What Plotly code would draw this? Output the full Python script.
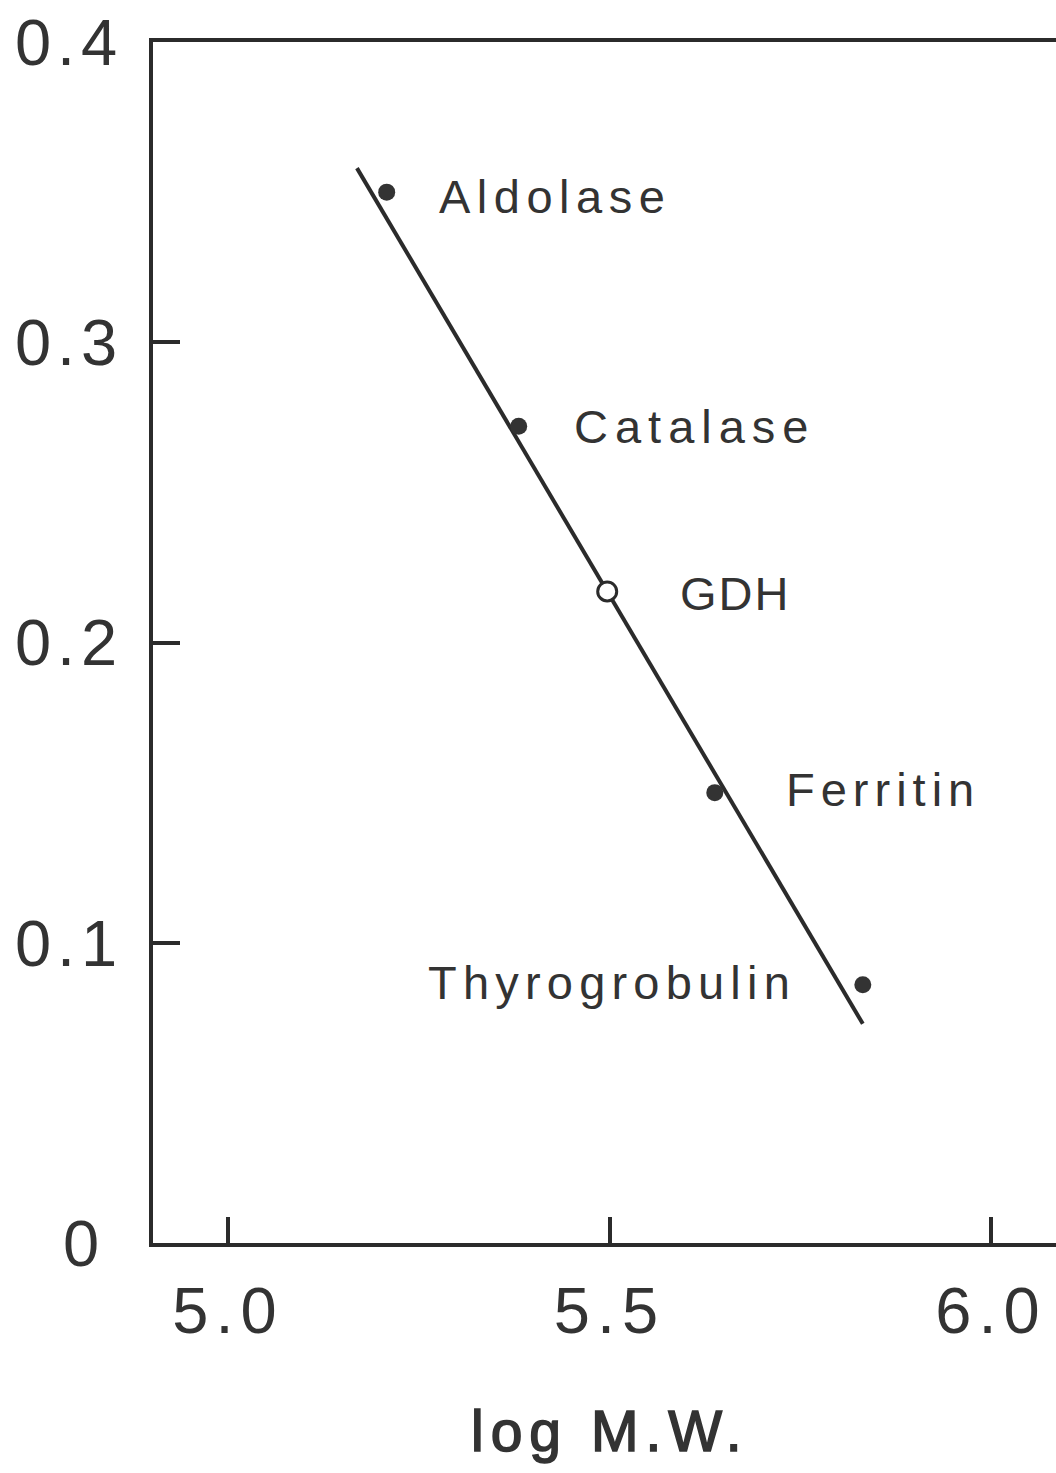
import plotly.graph_objects as go

# Calibration proteins: log molecular weight vs. mobility
proteins = ["Aldolase", "Catalase", "GDH", "Ferritin", "Thyrogrobulin"]
log_mw = [5.208, 5.381, 5.497, 5.638, 5.832]
mobility = [0.350, 0.272, 0.217, 0.150, 0.086]
is_open = [False, False, True, False, False]

# Fitted calibration line end points
fit_x = [5.169, 5.832]
fit_y = [0.358, 0.073]

y_ticks = [0, 0.1, 0.2, 0.3, 0.4]
y_tick_labels = ["0", "0.1", "0.2", "0.3", "0.4"]
x_ticks = [5.0, 5.5, 6.0]
x_tick_labels = ["5.0", "5.5", "6.0"]

INK = "#2b2b2b"
TEXT = "#333333"
FONT = "Liberation Sans, Arial, sans-serif"


def spaced(s, px, extra=""):
    return f'<span style="letter-spacing:{px}px;{extra}">{s}</span>'


fig = go.Figure()

fig.add_trace(go.Scatter(
    x=fit_x, y=fit_y, mode="lines",
    line=dict(color=INK, width=4), showlegend=False, hoverinfo="skip",
))

filled_x = [x for x, o in zip(log_mw, is_open) if not o]
filled_y = [y for y, o in zip(mobility, is_open) if not o]
open_x = [x for x, o in zip(log_mw, is_open) if o]
open_y = [y for y, o in zip(mobility, is_open) if o]

fig.add_trace(go.Scatter(
    x=filled_x, y=filled_y, mode="markers",
    marker=dict(size=17, color="#333333", line=dict(width=0)),
    showlegend=False,
))
fig.add_trace(go.Scatter(
    x=open_x, y=open_y, mode="markers",
    marker=dict(size=19, color="white", line=dict(color=INK, width=3)),
    showlegend=False,
))

# Protein name labels, placed beside each point
label_pos = {
    "Aldolase": (5.2733, 0.3487, 6.5),
    "Catalase": (5.4503, 0.2721, 7),
    "GDH": (5.5898, 0.2164, 2),
    "Ferritin": (5.7286, 0.1512, 6),
    "Thyrogrobulin": (5.2595, 0.0866, 6.2),
}
for name in proteins:
    lx, ly, sp = label_pos[name]
    fig.add_annotation(
        x=lx, y=ly, xref="x", yref="y", text=spaced(name, sp),
        showarrow=False, xanchor="left", yanchor="middle",
        font=dict(family=FONT, size=47, color=TEXT),
    )

# Axis title, drawn slightly heavier than the tick labels
fig.add_annotation(
    x=5.5, y=-0.1565, xref="x", yref="paper",
    text=spaced("log M.W.", 7, "stroke:#333333;stroke-width:1.6px"),
    showarrow=False, xanchor="center", yanchor="middle",
    font=dict(family=FONT, size=57, color=TEXT),
)

y_text = [spaced(t, 6) for t in y_tick_labels]
y_text[0] = spaced("0", 6) + spaced("\u00a0", 0)

fig.update_xaxes(
    range=[4.9017, 6.0852], tickvals=x_ticks,
    ticktext=[spaced(t, 7) for t in x_tick_labels],
    ticks="inside", ticklen=26, tickwidth=3.5, tickcolor=INK,
    showline=True, linecolor=INK, linewidth=3.5, mirror=True,
    showgrid=False, zeroline=False, ticklabelstandoff=8,
    tickfont=dict(family=FONT, size=65, color=TEXT),
)
fig.update_yaxes(
    range=[0, 0.4], tickvals=y_ticks, ticktext=y_text,
    ticks="inside", ticklen=27, tickwidth=3.5, tickcolor=INK,
    showline=True, linecolor=INK, linewidth=3.5, mirror=False,
    showgrid=False, zeroline=False, ticklabelstandoff=13,
    tickfont=dict(family=FONT, size=65, color=TEXT),
)

fig.update_layout(
    width=1056, height=1473,
    margin=dict(l=153, r=0, t=42, b=230),
    paper_bgcolor="white", plot_bgcolor="white",
    showlegend=False,
)

fig.write_html("out.html")
